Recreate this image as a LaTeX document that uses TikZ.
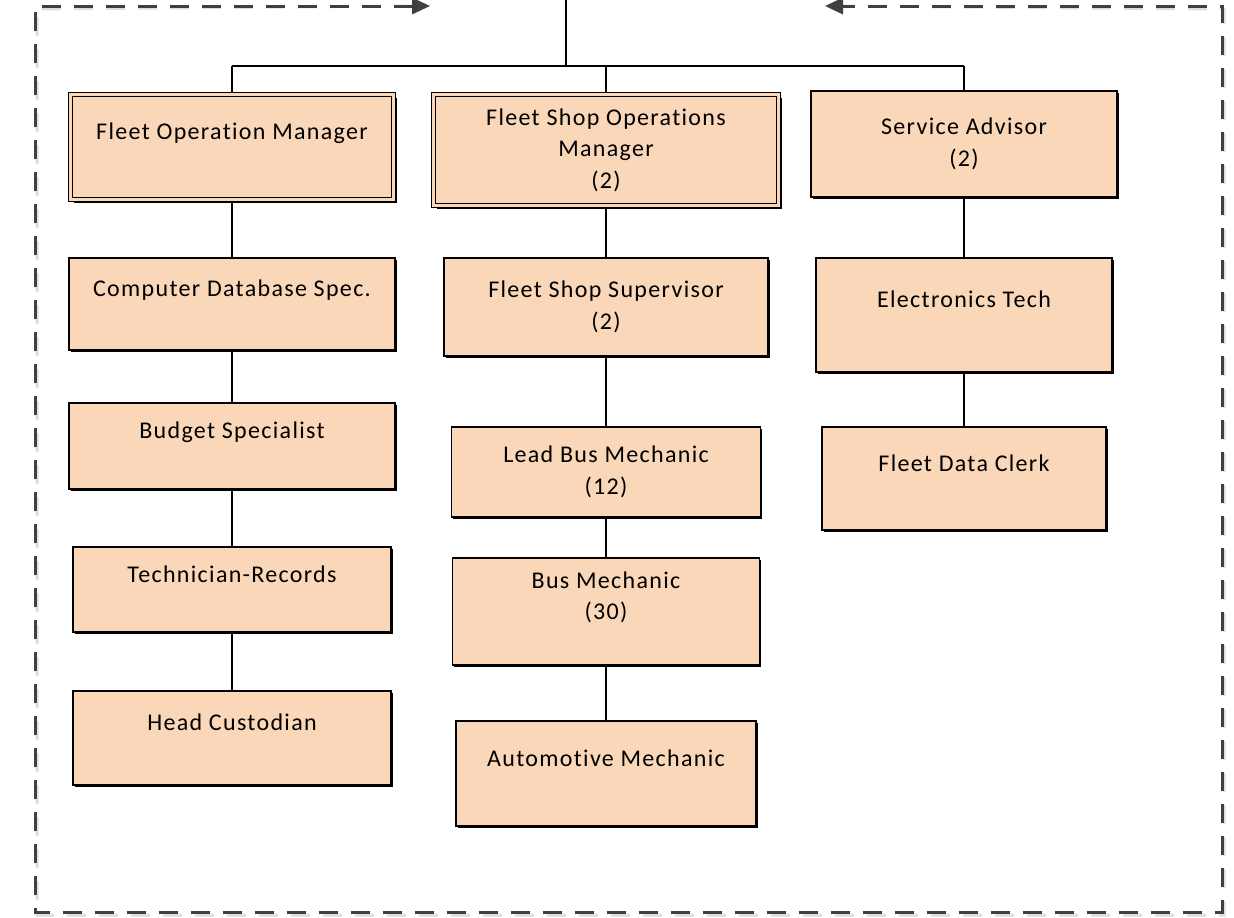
\documentclass[tikz,border=0pt]{standalone}
\usepackage{fontspec}
\setmainfont[LetterSpace=5.5,Ligatures={NoCommon}]{Carlito}
\usetikzlibrary{arrows.meta,shadows,backgrounds}
\definecolor{boxfill}{HTML}{FAD7B9}
\definecolor{framecol}{HTML}{404040}
\definecolor{frameshadow}{HTML}{DDDDDD}
\begin{document}
\begin{tikzpicture}[x=1pt,y=-1pt,
  basebox/.style={draw=black, fill=boxfill, rectangle, inner sep=0pt, align=center,
    font=\fontsize{24}{31.5}\selectfont},
  box/.style={basebox, line width=1.8pt,
    general shadow={shadow xshift=1.6pt, shadow yshift=-1.6pt, fill=black}},
  dbox/.style={basebox, line width=1.4pt, double=boxfill, double distance=2.4pt,
    general shadow={shadow xshift=3.2pt, shadow yshift=-3.2pt, fill=black}},
  conn/.style={draw=black, line width=1.8pt},
  frameline/.style={line width=3pt, dash pattern=on 19pt off 13pt,
    {Triangle[length=18pt,width=16pt]}-{Triangle[length=18pt,width=16pt]}}
]
\useasboundingbox (0,0) rectangle (1234,918);

% frame shadow and frame
\coordinate (fl) at (430,6);
\coordinate (fr) at (825,6);
\draw[frameline, draw=frameshadow, shift={(2,3)}]
  (fl) -- (35,6) -- (35,912) -- (1222,912) -- (1222,6) -- (fr);
\draw[frameline, draw=framecol]
  (fl) -- (35,6) -- (35,912) -- (1222,912) -- (1222,6) -- (fr);

% boxes
\node[dbox, minimum width=323, minimum height=105] (fom) at (232,147) {Fleet Operation Manager\\\mbox{}};
\node[dbox, minimum width=345, minimum height=111] (fsom) at (606,150) {Fleet Shop Operations\\Manager\\(2)};
\node[box, minimum width=306, minimum height=106] (sa) at (964,144) {Service Advisor\\(2)};
\node[box, minimum width=326, minimum height=92] (cds) at (232,304) {Computer Database Spec.\\\mbox{}};
\node[box, minimum width=326, minimum height=86] (bs) at (232,446) {Budget Specialist\\\mbox{}};
\node[box, minimum width=318, minimum height=85] (tr) at (232,589.5) {Technician-Records\\\mbox{}};
\node[box, minimum width=318, minimum height=94] (hc) at (232,738) {Head Custodian\\\mbox{}};
\node[box, minimum width=324, minimum height=98] (fss) at (606,307) {Fleet Shop Supervisor\\(2)};
\node[box, minimum width=309, minimum height=90] (lbm) at (606,472) {Lead Bus Mechanic\\(12)};
\node[box, minimum width=307, minimum height=107] (bm) at (606,611.5) {Bus Mechanic\\(30)\\\mbox{}};
\node[box, minimum width=300, minimum height=105] (am) at (606,773.5) {Automotive Mechanic\\\mbox{}};
\node[box, minimum width=296, minimum height=114] (et) at (964,315) {Electronics Tech\\\mbox{}};
\node[box, minimum width=284, minimum height=103] (fdc) at (964,478.5) {Fleet Data Clerk\\\mbox{}};

% connectors
\begin{scope}[on background layer]
\coordinate (top) at (566,0);
\coordinate (bus) at (566,66);
\draw[conn, line width=2.6pt] (top) -- (bus);
\draw[conn] (fom.north |- bus) -- (sa.north |- bus);
\draw[conn] (fom.north |- bus) -- (fom.north);
\draw[conn] (fsom.north |- bus) -- (fsom.north);
\draw[conn] (sa.north |- bus) -- (sa.north);
\draw[conn] (fom) -- (cds);
\draw[conn] (cds) -- (bs);
\draw[conn] (bs) -- (tr);
\draw[conn] (tr) -- (hc);
\draw[conn] (fsom) -- (fss);
\draw[conn] (fss) -- (lbm);
\draw[conn] (lbm) -- (bm);
\draw[conn] (bm) -- (am);
\draw[conn] (sa) -- (et);
\draw[conn] (et) -- (fdc);
\end{scope}
\end{tikzpicture}
\end{document}
